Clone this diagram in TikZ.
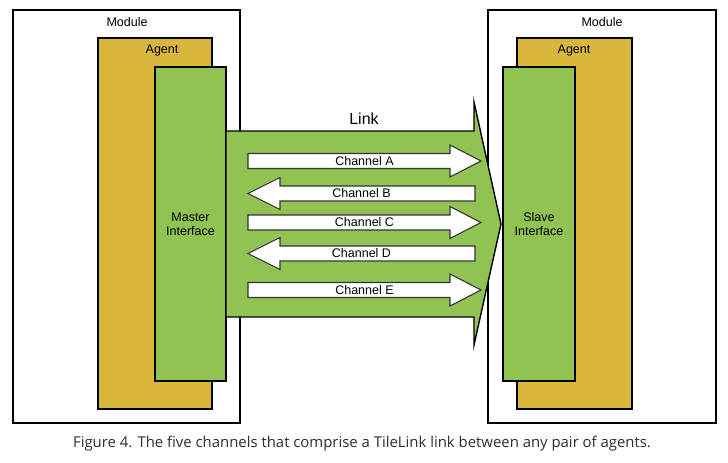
\documentclass[tikz,border=0pt]{standalone}
\usepackage{fontspec}
\setmainfont{Liberation Sans}
\newfontfamily\capfont{Open Sans}
\definecolor{agentgold}{HTML}{D9B73D}
\definecolor{ifgreen}{HTML}{91C353}
\definecolor{captxt}{HTML}{2E2E2E}
\tikzset{
  modbox/.style={draw=black, line width=1.8pt, fill=white},
  agentbox/.style={draw=black, line width=1.6pt, fill=agentgold},
  ifbox/.style={draw=black, line width=2.2pt, fill=ifgreen},
  linkshape/.style={draw=black, line width=1.4pt, fill=ifgreen, line join=miter},
  chan/.style={draw=black!80, line width=1.1pt, fill=white, line join=miter},
  lbl/.style={font=\fontsize{12.5}{14}\selectfont, inner sep=0pt, align=center},
  rarrow/.pic={
    \draw[chan] (-116.5,-7.5) -- (85.5,-7.5) -- (85.5,-16) -- (116.5,0) -- (85.5,16) -- (85.5,7.5) -- (-116.5,7.5) -- cycle;
    \node[lbl] (-t) at (0,0) {#1};
  },
  larrow/.pic={
    \draw[chan] (113.5,-7.5) -- (-81.5,-7.5) -- (-81.5,-16) -- (-113.5,0) -- (-81.5,16) -- (-81.5,7.5) -- (113.5,7.5) -- cycle;
    \node[lbl] (-t) at (0,0) {#1};
  }
}
\begin{document}
\begin{tikzpicture}[x=1pt, y=-1pt]
\useasboundingbox (0,0) rectangle (728,463);
% left side
\draw[modbox] (13,10) rectangle (240,423);
\node[lbl] (modL) at (127,22) {Module};
\draw[agentbox] (98,38) rectangle (212,409);
\node[lbl] (agL) at (162,50) {Agent};
\draw[ifbox] (155,67) rectangle (226,381);
\node[lbl] (master) at (190.5,224) {Master\\Interface};
% right side
\draw[modbox] (488,10) rectangle (716,423);
\node[lbl] (modR) at (602,22) {Module};
\draw[agentbox] (517,38) rectangle (632,409);
\node[lbl] (agR) at (574,50) {Agent};
% link
\draw[linkshape] (226,131) -- (474,131) -- (474,102) -- (501,224) -- (474,345) -- (474,317) -- (226,317) -- cycle;
\node[font=\fontsize{16}{18}\selectfont, inner sep=0pt] (link) at (364,119) {Link};
\draw[ifbox] (503,67) rectangle (575,381);
\node[lbl] (slave) at (539,224) {Slave\\Interface};
% channels
\pic (chA) at (364.5,161) {rarrow={Channel A}};
\pic (chB) at (361.5,193.5) {larrow={Channel B}};
\pic (chC) at (364.5,222.5) {rarrow={Channel C}};
\pic (chD) at (361.5,253.5) {larrow={Channel D}};
\pic (chE) at (364.5,290) {rarrow={Channel E}};
% caption
\node[font=\capfont\fontsize{14.9}{17}\selectfont, text=captxt, inner sep=0pt] (cap) at (362,444) {Figure 4. The five channels that comprise a TileLink link between any pair of agents.};
\end{tikzpicture}
\end{document}
